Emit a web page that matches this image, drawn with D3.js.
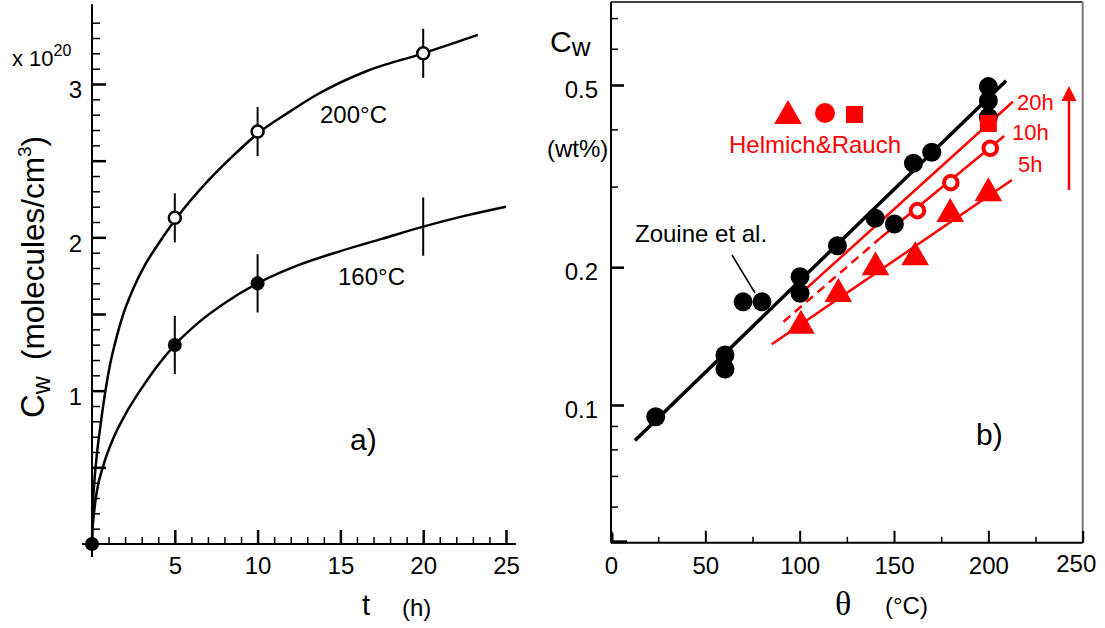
<!DOCTYPE html>
<html>
<head>
<meta charset="utf-8">
<script src="https://cdn.jsdelivr.net/npm/d3@7"></script>
<style>
body { margin: 0; background: #fff; }
svg text { font-family: "Liberation Sans", Arial, sans-serif; }
</style>
</head>
<body>
<script>
// ---------- panel a) : Cw (x 1e20 molecules/cm3) versus t (h) ----------
var curve200T = [0, 0.02, 0.12, 0.28, 0.52, 0.79, 1.09, 1.39, 1.89, 2.45, 3.2, 3.9, 5.05, 6.93, 8.53, 10.08, 11.8, 13.57, 16.6, 20, 23.3];
var curve200C = [0, 0.16, 0.374, 0.57, 0.78, 0.985, 1.17, 1.31, 1.50, 1.655, 1.82, 1.94, 2.118, 2.36, 2.533, 2.683, 2.81, 2.93, 3.085, 3.20, 3.32];
var curve160T = [0, 0.02, 0.08, 0.28, 0.68, 1.29, 2.09, 2.9, 3.9, 5, 6.5, 8, 10, 12.5, 15, 17.5, 20, 22.5, 25];
var curve160C = [0, 0.08, 0.16, 0.335, 0.51, 0.69, 0.86, 1.0, 1.155, 1.298, 1.45, 1.57, 1.70, 1.82, 1.91, 1.99, 2.07, 2.14, 2.20];

var open200T = [5, 10, 20];
var open200C = [2.127, 2.69, 3.20];
var err200 = [0.16, 0.16, 0.16];

var fill160T = [0, 5, 10];
var fill160C = [0, 1.298, 1.70];
var bar160T = [5, 10, 20];
var bar160C = [1.298, 1.70, 2.07];
var err160 = [0.19, 0.19, 0.19];

var tMajor = [5, 10, 15, 20, 25];
var cMajorA = [0.5, 1, 1.5, 2, 2.5, 3];
var cLabelsA = [1, 2, 3];

// ---------- panel b) : Cw (wt%) versus theta (C) ----------
var zouineT = [23.7, 60.4, 60.4, 70, 80, 100.2, 100.2, 120, 140, 150.2, 160.3, 170, 200, 200, 200];
var zouineC = [0.0943, 0.1286, 0.1198, 0.168, 0.168, 0.1906, 0.1754, 0.2228, 0.2558, 0.2486, 0.3373, 0.3564, 0.496, 0.462, 0.425];
var zouineFitT = [12.7, 209.4];
var zouineFitC = [0.0836, 0.511];

var h5T = [100.7, 120.5, 140.2, 161.2, 179.8, 200];
var h5C = [0.149, 0.1748, 0.1999, 0.2102, 0.2614, 0.290];
var h10T = [162.4, 180.1, 201];
var h10C = [0.2658, 0.306, 0.3637];
var h20T = [200];
var h20C = [0.412];

var fit5T = [85.2, 212.5], fit5C = [0.1357, 0.310];
var fit10DashT = [91.4, 142.6], fit10DashC = [0.152, 0.2313];
var fit10T = [142.6, 208.4], fit10C = [0.2313, 0.387];
var fit20T = [100.2, 213], fit20C = [0.1746, 0.4597];

var thetaMajor = [0, 50, 100, 150, 200, 250];
var thetaMinor = [25, 75, 125, 175, 225];
var cMajorB = [0.1, 0.2, 0.5];
var cMinorB = [0.06, 0.07, 0.08, 0.09, 0.3, 0.4, 0.6, 0.7];

var RED = '#ff0000';
var FONT = '"Liberation Sans", Arial, sans-serif';

var svg = d3.select('body').append('svg')
    .attr('width', 1105).attr('height', 628);

function styleAxis(g, width) {
    g.select('.domain').remove();
    g.attr('font-family', null).attr('font-size', null);
    g.selectAll('.tick line').attr('stroke', '#000').attr('stroke-width', width);
    g.selectAll('.tick text').attr('fill', '#000').attr('font-size', 24).attr('font-family', FONT);
}

function zip(a, b) { return a.map(function (d, i) { return [d, b[i]]; }); }

// ================= panel a =================
var xA = d3.scaleLinear().domain([0, 25]).range([92, 506]);
var yA = d3.scaleLinear().domain([0, 3]).range([544, 84]);

// axis lines
svg.append('line').attr('x1', xA(0)).attr('x2', xA(0))
    .attr('y1', yA(3.52)).attr('y2', yA(-0.085)).attr('stroke', '#000').attr('stroke-width', 2);
svg.append('line').attr('x1', xA(-0.6)).attr('x2', xA(25.6))
    .attr('y1', yA(0)).attr('y2', yA(0)).attr('stroke', '#000').attr('stroke-width', 2);

svg.append('g').attr('transform', 'translate(0,' + yA(0) + ')')
    .call(d3.axisBottom(xA).tickValues(d3.range(1, 25).filter(function (d) { return d % 5; }))
        .tickSize(-7).tickFormat(''))
    .call(styleAxis, 1.5);
svg.append('g').attr('transform', 'translate(0,' + yA(0) + ')')
    .call(d3.axisBottom(xA).tickValues(tMajor).tickSize(-14).tickPadding(13))
    .call(styleAxis, 2.5);

svg.append('g').attr('transform', 'translate(' + xA(0) + ',0)')
    .call(d3.axisLeft(yA).tickValues(d3.range(1, 35).map(function (d) { return d / 10; })
        .filter(function (d) { return Math.round(d * 10) % 5; })).tickSize(-8).tickFormat(''))
    .call(styleAxis, 1.5);
svg.append('g').attr('transform', 'translate(' + xA(0) + ',0)')
    .call(d3.axisLeft(yA).tickValues(cMajorA).tickSize(-14).tickPadding(10)
        .tickFormat(function (d) { return cLabelsA.indexOf(d) >= 0 ? d : ''; }))
    .call(styleAxis, 2.5)
    .selectAll('.tick text').attr('dy', '0.58em');

// fitted curves
var lineA = d3.line().x(function (d) { return xA(d[0]); }).y(function (d) { return yA(d[1]); })
    .curve(d3.curveMonotoneX);
svg.append('path').attr('d', lineA(zip(curve200T, curve200C)))
    .attr('fill', 'none').attr('stroke', '#000').attr('stroke-width', 2.5);
svg.append('path').attr('d', lineA(zip(curve160T, curve160C)))
    .attr('fill', 'none').attr('stroke', '#000').attr('stroke-width', 2.5);

// error bars
svg.selectAll('.e200').data(open200T).enter().append('line')
    .attr('x1', function (d) { return xA(d); }).attr('x2', function (d) { return xA(d); })
    .attr('y1', function (d, i) { return yA(open200C[i] - err200[i]); })
    .attr('y2', function (d, i) { return yA(open200C[i] + err200[i]); })
    .attr('stroke', '#000').attr('stroke-width', 2);
svg.selectAll('.e160').data(bar160T).enter().append('line')
    .attr('x1', function (d) { return xA(d); }).attr('x2', function (d) { return xA(d); })
    .attr('y1', function (d, i) { return yA(bar160C[i] - err160[i]); })
    .attr('y2', function (d, i) { return yA(bar160C[i] + err160[i]); })
    .attr('stroke', '#000').attr('stroke-width', 2);

// markers
svg.selectAll('.o200').data(open200T).enter().append('circle')
    .attr('cx', function (d) { return xA(d); }).attr('cy', function (d, i) { return yA(open200C[i]); })
    .attr('r', 6).attr('fill', '#fff').attr('stroke', '#000').attr('stroke-width', 2.5);
svg.selectAll('.f160').data(fill160T).enter().append('circle')
    .attr('cx', function (d) { return xA(d); }).attr('cy', function (d, i) { return yA(fill160C[i]); })
    .attr('r', 7).attr('fill', '#000');

// texts panel a
svg.append('text').attr('x', 320).attr('y', 123).attr('font-size', 24).text('200°C');
svg.append('text').attr('x', 338).attr('y', 285).attr('font-size', 24).text('160°C');
svg.append('text').attr('x', 350).attr('y', 450).attr('font-size', 30).text('a)');
var xt = svg.append('text').attr('x', 12).attr('y', 66).attr('font-size', 22);
xt.append('tspan').text('x 10');
xt.append('tspan').attr('font-size', 16).attr('dy', -10).text('20');
svg.append('text').attr('x', 362).attr('y', 615).attr('font-size', 29).text('t');
svg.append('text').attr('x', 402).attr('y', 616).attr('font-size', 24).text('(h)');
var yt = svg.append('text').attr('transform', 'translate(44,418) rotate(-90)').attr('font-size', 31.5);
yt.append('tspan').attr('font-size', 33).text('C');
yt.append('tspan').attr('font-size', 25).attr('dy', 6).text('w');
yt.append('tspan').attr('dy', -6).attr('dx', 16).text('(molecules/cm');
yt.append('tspan').attr('font-size', 19).attr('dy', -13).text('3');
yt.append('tspan').attr('dy', 13).text(')');

// ================= panel b =================
var xB = d3.scaleLinear().domain([0, 250]).range([611, 1082.7]);
var yB = d3.scaleLog().domain([0.1, 0.5]).range([405, 85]);

// frame
svg.append('line').attr('x1', xB(0)).attr('x2', xB(250)).attr('y1', 2).attr('y2', 2)
    .attr('stroke', '#000').attr('stroke-width', 1.5);
svg.append('line').attr('x1', xB(250)).attr('x2', xB(250)).attr('y1', 2).attr('y2', yB(0.05))
    .attr('stroke', '#777').attr('stroke-width', 2);
svg.append('line').attr('x1', xB(0)).attr('x2', xB(0)).attr('y1', 2).attr('y2', yB(0.05))
    .attr('stroke', '#000').attr('stroke-width', 2);
svg.append('line').attr('x1', xB(0)).attr('x2', xB(250)).attr('y1', yB(0.05)).attr('y2', yB(0.05))
    .attr('stroke', '#000').attr('stroke-width', 2);

svg.append('g').attr('transform', 'translate(0,' + yB(0.05) + ')')
    .call(d3.axisBottom(xB).tickValues(thetaMinor).tickSize(-6).tickFormat(''))
    .call(styleAxis, 1.5);
var gxb = svg.append('g').attr('transform', 'translate(0,' + yB(0.05) + ')')
    .call(d3.axisBottom(xB).tickValues(thetaMajor).tickSize(-12).tickPadding(14))
    .call(styleAxis, 2);
gxb.selectAll('.tick text').filter(function (d) { return d === 250; })
    .attr('dx', -7).attr('dy', '0.62em');
svg.append('line').attr('x1', xB(0)).attr('x2', xB(0) + 16).attr('y1', yB(0.05) - 1).attr('y2', yB(0.05) - 1)
    .attr('stroke', '#000').attr('stroke-width', 3);
svg.append('line').attr('x1', xB(0) + 1).attr('x2', xB(0) + 1).attr('y1', yB(0.05) - 10).attr('y2', yB(0.05))
    .attr('stroke', '#000').attr('stroke-width', 3);

svg.append('g').attr('transform', 'translate(' + xB(0) + ',0)')
    .call(d3.axisLeft(yB).tickValues(cMinorB).tickSize(-7).tickFormat(''))
    .call(styleAxis, 1.5);
svg.append('g').attr('transform', 'translate(' + xB(0) + ',0)')
    .call(d3.axisLeft(yB).tickValues(cMajorB).tickSize(-13).tickPadding(13).tickFormat(function (d) { return d; }))
    .call(styleAxis, 2.5)
    .selectAll('.tick text').attr('dy', '0.5em');

var lineB = d3.line().x(function (d) { return xB(d[0]); }).y(function (d) { return yB(d[1]); });

// red fit lines
[[fit5T, fit5C], [fit10T, fit10C], [fit20T, fit20C]].forEach(function (p) {
    svg.append('path').attr('d', lineB(zip(p[0], p[1])))
        .attr('fill', 'none').attr('stroke', RED).attr('stroke-width', 2.5);
});
svg.append('path').attr('d', lineB(zip(fit10DashT, fit10DashC)))
    .attr('fill', 'none').attr('stroke', RED).attr('stroke-width', 2.5).attr('stroke-dasharray', '9,6');

// black fit line
svg.append('path').attr('d', lineB(zip(zouineFitT, zouineFitC)))
    .attr('fill', 'none').attr('stroke', '#000').attr('stroke-width', 3.5);

svg.selectAll('.zou').data(zouineT).enter().append('circle')
    .attr('cx', function (d) { return xB(d); }).attr('cy', function (d, i) { return yB(zouineC[i]); })
    .attr('r', 9.5).attr('fill', '#000');

var tri = d3.symbol().type(d3.symbolTriangle).size(330);
svg.selectAll('.h5').data(h5T).enter().append('path')
    .attr('d', tri)
    .attr('transform', function (d, i) { return 'translate(' + xB(d) + ',' + yB(h5C[i]) + ')'; })
    .attr('fill', RED);
svg.selectAll('.h10').data(h10T).enter().append('circle')
    .attr('cx', function (d) { return xB(d); }).attr('cy', function (d, i) { return yB(h10C[i]); })
    .attr('r', 6.8).attr('fill', '#fff').attr('stroke', RED).attr('stroke-width', 4);
svg.selectAll('.h20').data(h20T).enter().append('rect')
    .attr('x', function (d) { return xB(d) - 8.5; }).attr('y', function (d, i) { return yB(h20C[i]) - 8.5; })
    .attr('width', 17).attr('height', 17).attr('fill', RED);

// legend and labels panel b
svg.append('path').attr('d', tri).attr('transform', 'translate(788,116)').attr('fill', RED);
svg.append('circle').attr('cx', 825).attr('cy', 113).attr('r', 10).attr('fill', RED);
svg.append('rect').attr('x', 846).attr('y', 106).attr('width', 17).attr('height', 17).attr('fill', RED);
svg.append('text').attr('x', 729).attr('y', 153).attr('font-size', 24).attr('fill', RED).text('Helmich&Rauch');
svg.append('text').attr('x', 635).attr('y', 242).attr('font-size', 24).text('Zouine et al.');
svg.append('line').attr('x1', 732).attr('y1', 255).attr('x2', 755).attr('y2', 293)
    .attr('stroke', '#000').attr('stroke-width', 1.5);
svg.append('text').attr('x', 1017).attr('y', 110).attr('font-size', 22).attr('fill', RED).text('20h');
svg.append('text').attr('x', 1012).attr('y', 140).attr('font-size', 22).attr('fill', RED).text('10h');
svg.append('text').attr('x', 1018).attr('y', 172).attr('font-size', 22).attr('fill', RED).text('5h');
svg.append('line').attr('x1', 1069).attr('x2', 1069).attr('y1', 190).attr('y2', 98)
    .attr('stroke', RED).attr('stroke-width', 2.5);
svg.append('path').attr('d', 'M1069,86L1076.5,101L1061.5,101Z').attr('fill', RED);
svg.append('text').attr('x', 976).attr('y', 445).attr('font-size', 30).text('b)');

var cw = svg.append('text').attr('x', 550).attr('y', 52).attr('font-size', 30);
cw.append('tspan').text('C');
cw.append('tspan').attr('font-size', 26).attr('dy', 4).text('w');
svg.append('text').attr('x', 547).attr('y', 157).attr('font-size', 24).text('(wt%)');
svg.append('text').attr('x', 835).attr('y', 615).attr('font-size', 34)
    .style('font-family', '"Liberation Serif", "Times New Roman", serif').text('θ');
svg.append('text').attr('x', 885).attr('y', 614).attr('font-size', 24).text('(°C)');
</script>
</body>
</html>
